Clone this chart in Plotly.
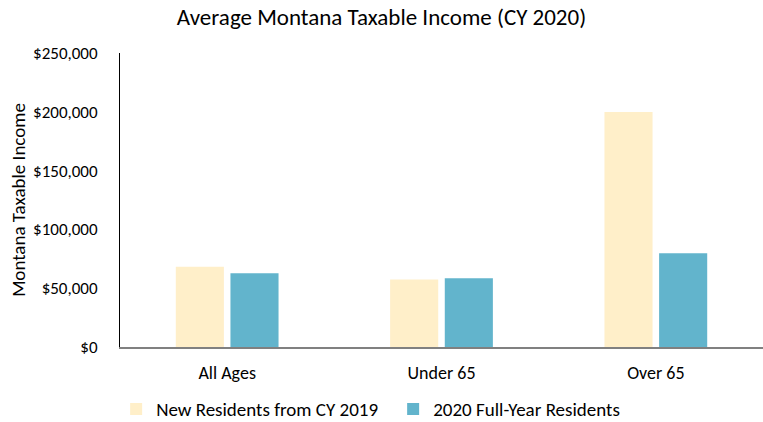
import plotly.graph_objects as go

# Chart data
age_groups = ["All Ages", "Under 65", "Over 65"]
new_residents = [68300, 57500, 199800]
full_year_residents = [62700, 58400, 79700]

font_family = "Calibri, Carlito, Lato, sans-serif"

fig = go.Figure()
fig.add_trace(go.Bar(x=age_groups, y=new_residents, name="New Residents from CY 2019",
                     marker=dict(color="#FFEFC9", line=dict(width=0))))
fig.add_trace(go.Bar(x=age_groups, y=full_year_residents, name="2020 Full-Year Residents",
                     marker=dict(color="#62B4CC", line=dict(width=0))))

fig.update_layout(
    width=763, height=422,
    margin=dict(l=120, r=0, t=53, b=75, autoexpand=False),
    paper_bgcolor="white", plot_bgcolor="white",
    font=dict(family=font_family, size=17, color="#262626"),
    title=dict(text="Average Montana Taxable Income (CY 2020)", x=0.5, xanchor="center",
               y=0.959, yanchor="middle", font=dict(size=23, color="#000000")),
    barmode="group", bargap=0.49, bargroupgap=0.12,
    showlegend=True,
    legend=dict(orientation="h", x=-0.006, xanchor="left", y=-0.211, yanchor="middle",
                font=dict(size=19, color="#000000"), itemwidth=30, traceorder="normal",
                entrywidth=232, entrywidthmode="pixels"),
)

fig.update_xaxes(showline=True, linecolor="#808080", linewidth=2, showgrid=False,
                 ticks="", ticklabelstandoff=8, automargin=False,
                 tickfont=dict(size=18, color="#000000"))
fig.update_yaxes(range=[0, 250000], dtick=50000, tickprefix="$", tickformat=",d",
                 showline=True, linecolor="#000000", linewidth=1, showgrid=False,
                 zeroline=False, ticks="", ticklabelstandoff=18, automargin=False,
                 tickfont=dict(size=17, color="#000000"),
                 title=dict(text="Montana Taxable Income", standoff=2,
                            font=dict(size=19, color="#000000")))

# drop the default page margin so the chart sits at the window's top-left corner
fig.write_html("out.html", config={"displayModeBar": False},
               post_script="document.body.style.margin='0';")
